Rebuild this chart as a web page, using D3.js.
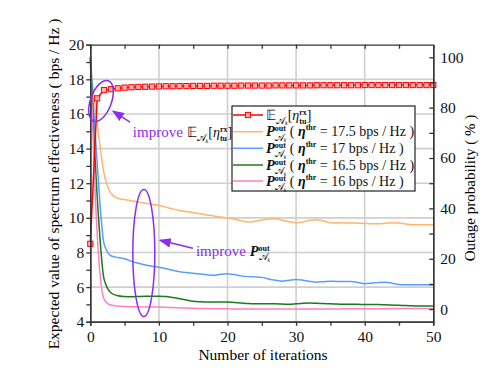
<!DOCTYPE html>
<html>
<head>
<meta charset="utf-8">
<script src="https://cdn.jsdelivr.net/npm/d3@7"></script>
<style>
  body { margin: 0; background: #fff; }
  svg { font-family: "Liberation Serif", "Times New Roman", serif; }
  svg text { white-space: pre; }
  .axis path, .axis line { stroke: #333; stroke-width: 1.3; }
  .axis text { font-family: "Liberation Serif", serif; font-size: 15.5px; fill: #111; }
</style>
</head>
<body>
<div id="chart"></div>
<script>
  // iterations 0..50
  var iterations = d3.range(0, 51);

  // expected spectrum effectiveness (left axis, bps/Hz)
  var expected = [8.5, 16.9, 17.38, 17.43, 17.48, 17.52, 17.54, 17.56, 17.57, 17.58,
    17.59, 17.6, 17.6, 17.61, 17.61, 17.62, 17.62, 17.62, 17.63, 17.63,
    17.63, 17.63, 17.64, 17.64, 17.64, 17.64, 17.64, 17.65, 17.65, 17.65,
    17.65, 17.65, 17.65, 17.66, 17.66, 17.66, 17.66, 17.66, 17.66, 17.66,
    17.67, 17.67, 17.67, 17.67, 17.67, 17.67, 17.67, 17.67, 17.67, 17.67, 17.67];

  // outage probability (right axis, %)
  var out175 = [97, 74, 54, 46, 44, 43.5, 43, 42.5, 42, 41.6,
    41.2, 40.5, 39.8, 39.2, 38.8, 38.3, 37.9, 37.4, 37, 36.6,
    36.2, 35.7, 35.1, 34.6, 34.9, 35.4, 35.8, 35.9, 35.3, 34.7,
    34.3, 34.6, 35.3, 35.5, 35, 34.3, 34.2, 34.3, 34.2, 34.1,
    34, 33.9, 33.9, 34.1, 34.3, 34.2, 33.8, 33.5, 33.5, 33.5, 33.5];
  var out17 = [100, 58, 26, 21.2, 20.5, 20, 19, 18.2, 17.5, 17,
    16.6, 16.1, 15.4, 14.8, 14.5, 14.2, 13.9, 13.6, 13.4, 13.8,
    14, 13.7, 13.2, 12.9, 12.8, 12.6, 12, 11.5, 11.1, 11.5,
    11.8, 11.5, 11, 10.7, 10.9, 11.1, 11, 11, 11, 10.6,
    10.1, 10.3, 10.6, 10.7, 10.3, 9.8, 9.7, 9.7, 9.7, 9.7, 9.6];
  var out165 = [100, 45, 12, 6.5, 5.3, 5, 4.9, 5, 5.1, 5.1,
    5.1, 5, 4.6, 4.1, 3.6, 3.1, 2.9, 2.8, 2.8, 2.8,
    2.8, 2.6, 2.4, 2.2, 2.1, 2.1, 2.1, 2.1, 2, 1.9,
    2.1, 2.3, 2.4, 2.3, 2.2, 2.1, 2, 1.9, 1.9, 1.9,
    1.8, 1.8, 1.8, 1.7, 1.6, 1.5, 1.4, 1.3, 1.2, 1.2, 1.2];
  var out16 = [100, 30, 4, 1.6, 1.2, 1, 0.9, 0.9, 0.8, 0.8,
    0.8, 0.7, 0.6, 0.5, 0.4, 0.3, 0.2, 0.2, 0.1, 0.1,
    0.1, 0, 0, 0, 0, 0, 0, 0, 0, 0,
    0, 0, 0, 0, 0, 0, 0.05, 0.1, 0.1, 0.1,
    0.1, 0.1, 0.15, 0.15, 0.2, 0.2, 0.2, 0.2, 0.2, 0.2, 0.2];

  var thresholds = ["17.5", "17", "16.5", "16"];
  var outColors = ["#ffb56b", "#5b9cff", "#1b7a1b", "#ff80c4"];
  var outSeries = [out175, out17, out165, out16];

  var xTicks = [0, 10, 20, 30, 40, 50];
  var xMinor = [5, 15, 25, 35, 45];
  var yLTicks = [4, 6, 8, 10, 12, 14, 16, 18, 20];
  var yLMinor = [5, 7, 9, 11, 13, 15, 17, 19];
  var yRTicks = [0, 20, 40, 60, 80, 100];
  var yRMinor = [10, 30, 50, 70, 90];

(function(){
  var W = 504, H = 386;
  var pl = 90.3, pr = 433.3, pt = 44.7, pb = 321.7;

  var svg = d3.select("#chart").append("svg")
    .attr("width", W).attr("height", H);

  var x = d3.scaleLinear().domain([0, 50]).range([pl, pr]);
  var yL = d3.scaleLinear().domain([4, 20]).range([pb, pt]);
  var yR = d3.scaleLinear().domain([-5, 105]).range([pb, pt]);

  var purple = "#8c2cf0";

  // grid
  svg.append("g").selectAll("line")
    .data(yLTicks.slice(1, -1)).enter().append("line")
    .attr("x1", pl).attr("x2", pr)
    .attr("y1", function(d){ return yL(d); })
    .attr("y2", function(d){ return yL(d); })
    .attr("stroke", "#cfcfcf").attr("stroke-width", 1.6);
  svg.append("g").selectAll("line")
    .data(xTicks.slice(1, -1)).enter().append("line")
    .attr("y1", pt).attr("y2", pb)
    .attr("x1", function(d){ return x(d); })
    .attr("x2", function(d){ return x(d); })
    .attr("stroke", "#cfcfcf").attr("stroke-width", 1.6);

  // outage curves
  var lineR = d3.line()
    .x(function(d, i){ return x(iterations[i]); })
    .y(function(d){ return yR(d); })
    .curve(d3.curveMonotoneX);

  outSeries.forEach(function(s, k){
    svg.append("path").datum(s)
      .attr("d", lineR)
      .attr("fill", "none")
      .attr("stroke", outColors[k])
      .attr("stroke-width", 1.5);
  });

  // expected value curve
  var lineL = d3.line()
    .x(function(d, i){ return x(iterations[i]); })
    .y(function(d){ return yL(d); });

  svg.append("path").datum(expected)
    .attr("d", lineL)
    .attr("fill", "none")
    .attr("stroke", "#ff0000")
    .attr("stroke-width", 1.5);

  svg.append("g").selectAll("rect")
    .data(expected).enter().append("rect")
    .attr("x", function(d, i){ return x(iterations[i]) - 2.6; })
    .attr("y", function(d){ return yL(d) - 2.6; })
    .attr("width", 5.2).attr("height", 5.2)
    .attr("fill", "#ffb0b0")
    .attr("stroke", "#ff0000")
    .attr("stroke-width", 1);

  // axes
  svg.append("g").attr("class", "axis")
    .attr("transform", "translate(0," + pb + ")")
    .call(d3.axisBottom(x).tickValues(xTicks).tickSize(4).tickSizeOuter(0).tickPadding(5));
  svg.append("g").attr("class", "axis")
    .attr("transform", "translate(0," + pb + ")")
    .call(d3.axisBottom(x).tickValues(xMinor).tickSize(4).tickFormat(""));
  svg.append("g").attr("class", "axis")
    .attr("transform", "translate(0," + pt + ")")
    .call(d3.axisTop(x).tickValues(xTicks.concat(xMinor)).tickSizeInner(-4).tickSizeOuter(0).tickFormat(""));

  svg.append("g").attr("class", "axis")
    .attr("transform", "translate(" + pl + ",0)")
    .call(d3.axisLeft(yL).tickValues(yLTicks).tickSize(4).tickSizeOuter(0).tickPadding(2));
  svg.append("g").attr("class", "axis")
    .attr("transform", "translate(" + pl + ",0)")
    .call(d3.axisLeft(yL).tickValues(yLMinor).tickSize(4).tickFormat(""));

  svg.append("g").attr("class", "axis")
    .attr("transform", "translate(" + pr + ",0)")
    .call(d3.axisRight(yR).tickValues(yRTicks).tickSizeInner(-4).tickSizeOuter(0).tickPadding(7));
  svg.append("g").attr("class", "axis")
    .attr("transform", "translate(" + pr + ",0)")
    .call(d3.axisRight(yR).tickValues(yRMinor).tickSizeInner(-4).tickSizeOuter(0).tickFormat(""));

  // axis titles
  svg.append("text")
    .attr("transform", "translate(58.5,184) rotate(-90)")
    .attr("text-anchor", "middle")
    .style("font-size", "15.5px")
    .text("Expected value of spectrum effectiveness ( bps / Hz )");
  svg.append("text")
    .attr("transform", "translate(475,188) rotate(-90)")
    .attr("text-anchor", "middle")
    .style("font-size", "15px")
    .text("Outage probability ( % )");
  svg.append("text")
    .attr("x", 263).attr("y", 360)
    .attr("text-anchor", "middle")
    .style("font-size", "15.5px")
    .text("Number of iterations");

  // small helper for math-like labels made of pieces
  function mathText(g, x0, y0, parts, fill){
    var cx = x0, lastStart = x0, lastW = 0;
    parts.forEach(function(p){
      var px = p.over ? lastStart : cx;
      var t = g.append("text")
        .attr("x", px).attr("y", y0 + (p.dy || 0))
        .style("font-size", p.s + "px")
        .style("font-style", p.it ? "italic" : "normal")
        .style("font-weight", p.b ? "bold" : "normal")
        .attr("fill", p.fill || fill || "#111")
        .text(p.t);
      if (p.sub) {
        t.append("tspan").attr("dy", p.sub.dy)
          .style("font-size", p.sub.s + "px")
          .style("font-style", "italic")
          .text(p.sub.t);
      }
      var w = t.node().getComputedTextLength();
      if (p.over) {
        cx = lastStart + Math.max(lastW, w);
      } else {
        lastStart = px; lastW = w; cx = px + w;
      }
    });
    return cx;
  }

  var eParts = [
    { t: "𝔼", s: 14 },
    { t: "𝒜", s: 10, dy: 4, sub: { t: "k", s: 6, dy: 1.5 } },
    { t: "[", s: 14 },
    { t: "η", s: 14, it: true },
    { t: "rx", s: 8, dy: -5, b: true },
    { t: "tu", s: 8, dy: 4, b: true, over: true },
    { t: "]", s: 14 }
  ];
  function pParts(thr){
    return [
      { t: "P", s: 14.5, it: true, b: true },
      { t: "out", s: 8, dy: -5, b: true },
      { t: "𝒜", s: 9.5, dy: 4.5, sub: { t: "k", s: 5.5, dy: 1.5 }, over: true },
      { t: " ( ", s: 14 },
      { t: "η", s: 14, it: true, b: true },
      { t: "thr", s: 8, dy: -6, b: true },
      { t: " = " + thr + " bps / Hz )", s: 14 }
    ];
  }

  // legend
  var lg = svg.append("g");
  lg.append("rect")
    .attr("x", 232).attr("y", 106).attr("width", 183).attr("height", 85)
    .attr("fill", "#fff").attr("stroke", "#222").attr("stroke-width", 1.2);
  var rowY = [115, 131.7, 148.3, 165, 181];
  var legColors = ["#ff0000"].concat(outColors);
  rowY.forEach(function(ry, i){
    lg.append("line")
      .attr("x1", 233).attr("x2", 263).attr("y1", ry).attr("y2", ry)
      .attr("stroke", legColors[i]).attr("stroke-width", 1.5);
    if (i === 0) {
      lg.append("rect").attr("x", 245.4).attr("y", ry - 2.6)
        .attr("width", 5.2).attr("height", 5.2)
        .attr("fill", "#ffb0b0").attr("stroke", "#ff0000").attr("stroke-width", 1);
      mathText(lg, 266, ry + 4.5, eParts);
    } else {
      mathText(lg, 266, ry + 4.5, pParts(thresholds[i - 1]));
    }
  });

  // annotations
  var defs = svg.append("defs");
  defs.append("marker").attr("id", "ah")
    .attr("viewBox", "0 0 10 10").attr("refX", 9).attr("refY", 5)
    .attr("markerWidth", 8).attr("markerHeight", 8).attr("orient", "auto")
    .append("path").attr("d", "M0,1 L10,5 L0,9 Z").attr("fill", purple);

  var ann = svg.append("g");
  // ellipse around expected-value rise
  var e1 = [1.56, 16.75];
  ann.append("ellipse")
    .attr("transform", "translate(" + x(e1[0]) + "," + yL(e1[1]) + ") rotate(20)")
    .attr("rx", 10.5).attr("ry", 21.5)
    .attr("fill", "none").attr("stroke", purple).attr("stroke-width", 1.5);
  ann.append("line")
    .attr("x1", x(5.8)).attr("y1", yL(15.53))
    .attr("x2", x(3.3)).attr("y2", yL(16.16))
    .attr("stroke", purple).attr("stroke-width", 1.5)
    .attr("marker-end", "url(#ah)");
  var ex = mathText(ann, x(6.2), yL(14.65), [{ t: "improve ", s: 15 }], purple);
  mathText(ann, ex, yL(14.65), eParts);

  // ellipse around outage curves
  var e2 = [7.8, 7.97];
  ann.append("ellipse")
    .attr("cx", x(e2[0])).attr("cy", yL(e2[1]))
    .attr("rx", 11).attr("ry", 63.5)
    .attr("fill", "none").attr("stroke", purple).attr("stroke-width", 1.5);
  ann.append("line")
    .attr("x1", x(14.96)).attr("y1", yL(8.24))
    .attr("x2", x(10.15)).attr("y2", yL(8.7))
    .attr("stroke", purple).attr("stroke-width", 1.5)
    .attr("marker-end", "url(#ah)");
  var px2 = mathText(ann, x(15.4), yL(7.8), [{ t: "improve ", s: 15 }], purple);
  mathText(ann, px2, yL(7.8), [
    { t: "P", s: 14.5, it: true, b: true },
    { t: "out", s: 8, dy: -5, b: true },
    { t: "𝒜", s: 9.5, dy: 4.5, sub: { t: "k", s: 5.5, dy: 1.5 }, over: true }
  ]);
})();
</script>
</body>
</html>
